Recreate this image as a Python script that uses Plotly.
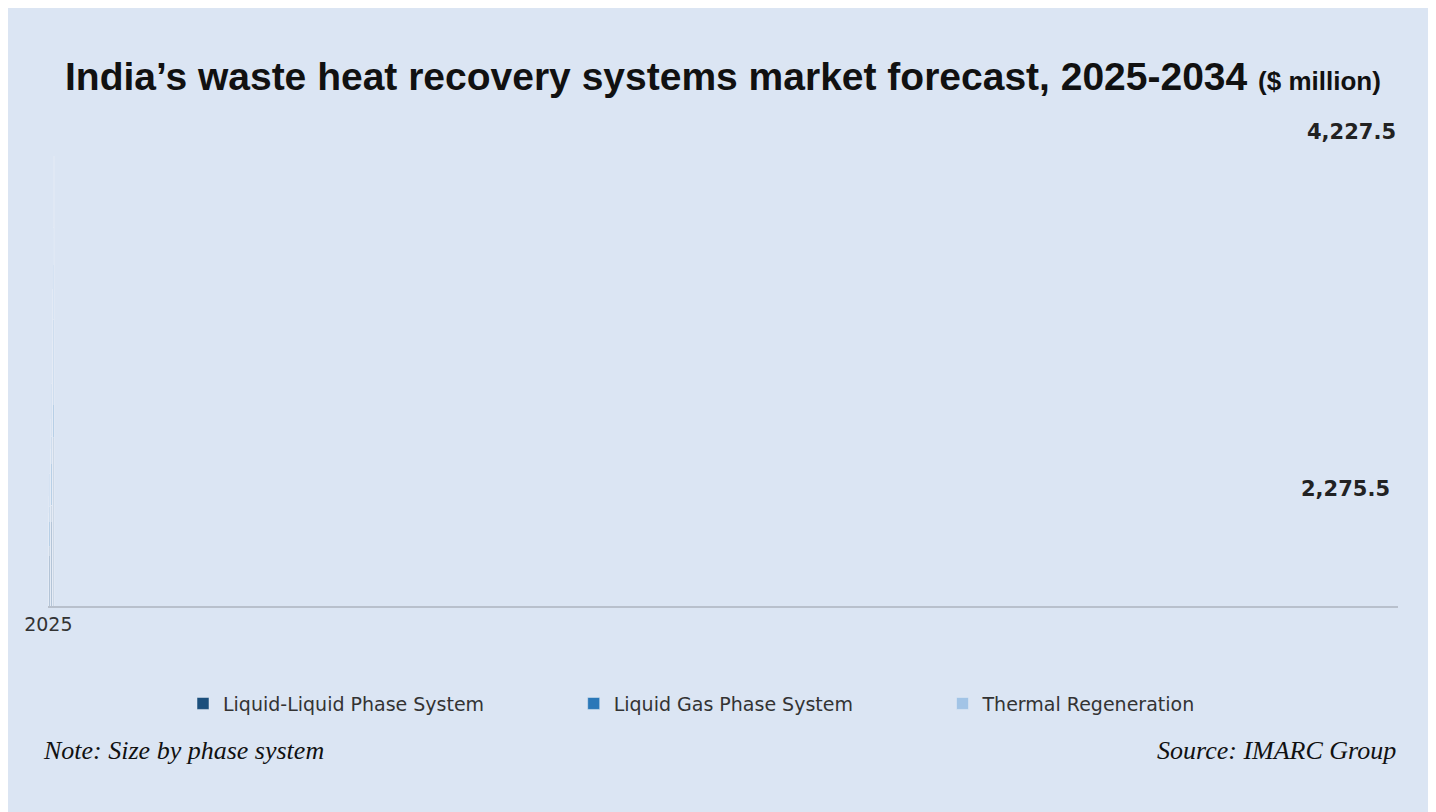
import plotly.graph_objects as go

years = ["2025", "2026", "2027", "2028", "2029", "2030", "2031", "2032", "2033", "2034"]
liquid_liquid = [1991, 2040, 2090, 2155, 2226, 2319, 2423, 2543, 2686, 2866]
liquid_gas = [164, 186, 219, 257, 317, 372, 443, 536, 645, 766]
thermal = [120, 142, 180, 213, 246, 290, 350, 421, 503, 596]
totals = [a + b + c for a, b, c in zip(liquid_liquid, liquid_gas, thermal)]
labels = {"2025": "2,275.5", "2034": "4,227.5"}
pad = "\u00a0" * 14

fig = go.Figure()
fig.add_trace(go.Bar(x=years, y=liquid_liquid, name="Liquid-Liquid Phase System" + pad, marker_color="#1b4f7c"))
fig.add_trace(go.Bar(x=years, y=liquid_gas, name="Liquid Gas Phase System" + pad, marker_color="#2a78b8"))
fig.add_trace(go.Bar(x=years, y=thermal, name="Thermal Regeneration", marker_color="#a2c4e6"))

for yr, tot in zip(years, totals):
    if yr in labels:
        fig.add_annotation(x=yr, y=tot, text="<b>" + labels[yr] + "</b>", showarrow=False,
                           yanchor="bottom", yshift=10, font=dict(size=21, color="#222"))

fig.add_annotation(xref="paper", yref="paper", x=0.5, y=1.0, yshift=65, showarrow=False,
                   text="<b>India’s waste heat recovery systems market forecast, 2025-2034</b> <b><span style='font-size:26px'>($ million)</span></b>",
                   font=dict(family="Liberation Sans Narrow, Arial Narrow, sans-serif", size=39, color="#111"))
fig.add_annotation(xref="paper", yref="paper", x=-0.005, y=-0.33, showarrow=False, xanchor="left",
                   text="<i>Note: Size by phase system</i>",
                   font=dict(family="Liberation Serif, serif", size=26, color="#111"))
fig.add_annotation(xref="paper", yref="paper", x=1.0, y=-0.33, showarrow=False, xanchor="right",
                   text="<i>Source: IMARC Group</i>",
                   font=dict(family="Liberation Serif, serif", size=26, color="#111"))

fig.update_layout(
    barmode="stack", bargap=0.6,
    width=1436, height=812,
    margin=dict(l=40, r=46, t=110, b=214),
    paper_bgcolor="#dbe5f3", plot_bgcolor="#dbe5f3",
    font=dict(family="DejaVu Sans, sans-serif", color="#333"),
    legend=dict(orientation="h", x=0.1, xanchor="left", y=-0.2, yanchor="middle",
                font=dict(size=19), traceorder="normal", itemwidth=30),
    showlegend=True,
)
fig.update_xaxes(type="category", showline=True, linecolor="#b8c0cc", linewidth=2,
                 tickfont=dict(size=19), ticks="")
fig.update_yaxes(range=[1767, 4435], visible=False, showgrid=False)

fig.write_html("out.html")
